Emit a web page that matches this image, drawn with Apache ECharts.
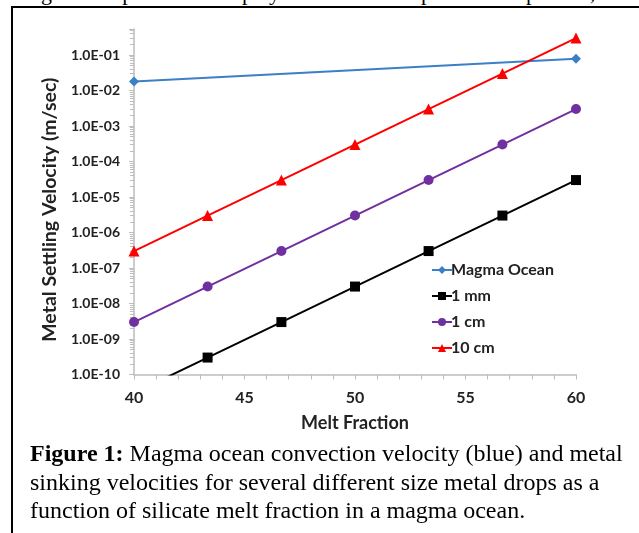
<!DOCTYPE html>
<html>
<head>
<meta charset="utf-8">
<script src="https://cdn.jsdelivr.net/npm/echarts@6/dist/echarts.min.js"></script>
<style>
  html, body { margin: 0; padding: 0; background: #fff; }
  #page { position: relative; width: 639px; height: 533px; overflow: hidden; }
  #frame { position: absolute; left: 11px; top: 6px; width: 700px; height: 600px;
           border-left: 2px solid #000; border-top: 2px solid #000; }
  #chart { position: absolute; left: 0; top: 0; width: 639px; height: 533px; }
  #above { position: absolute; left: 30px; top: -20px; white-space: nowrap;
           font-family: "Liberation Serif", serif; font-size: 22px; color: #000; }
  #caption { position: absolute; left: 30px; top: 439px; width: 605px;
             font-family: "Liberation Serif", serif; font-size: 24px; line-height: 28.5px; color: #000; }
</style>
</head>
<body>
<div id="page">
  <div id="above">ngine comparison of displays the relative importance of plumes,</div>
  <div id="frame"></div>
  <div id="chart"></div>
  <div id="caption"><b>Figure 1:</b> Magma ocean convection velocity (blue) and metal sinking velocities for several different size metal drops as a function of silicate melt fraction in a magma ocean.</div>
</div>
<script>
var meltFraction = [40, 43.33, 46.67, 50, 53.33, 56.67, 60];
var oceanX = [40, 60];
var oceanVel = [0.018, 0.078];
var drop1mm = [3e-11, 3e-10, 3e-9, 3e-8, 3e-7, 3e-6, 3e-5];
var drop1cm = [3e-9, 3e-8, 3e-7, 3e-6, 3e-5, 3e-4, 3e-3];
var drop10cm = [3e-7, 3e-6, 3e-5, 3e-4, 3e-3, 3e-2, 3e-1];
var seriesNames = ["Magma Ocean", "1 mm", "1 cm", "10 cm"];

function pairs(xs, ys) {
    var res = [];
    for (var i = 0; i < xs.length; i++) {
        res.push([xs[i], ys[i]]);
    }
    return res;
}

function sciLabel(v) {
    var lg = Math.log10(v);
    var e = Math.round(lg);
    if (Math.abs(lg - e) > 1e-6) return "";
    return "1.0E" + (e < 0 ? "-" : "+") + String(Math.abs(e)).padStart(2, "0");
}

var chart = echarts.init(document.getElementById("chart"));
var font = "Lato, 'Open Sans', sans-serif";
chart.setOption({
    animation: false,
    grid: { left: 134, right: 63, top: 29, bottom: 158.5 },
    legend: {
        orient: "vertical",
        left: 426,
        top: 257,
        itemGap: 10,
        itemWidth: 20,
        itemHeight: 10,
        textStyle: { fontFamily: font, fontSize: 16, fontWeight: "bold", color: "#222", padding: [0, 0, 0, -6] },
        data: seriesNames
    },
    xAxis: {
        type: "value",
        min: 40,
        max: 60,
        interval: 5,
        name: "Melt Fraction",
        nameLocation: "middle",
        nameGap: 40,
        nameTextStyle: { fontFamily: font, fontSize: 18, fontWeight: "bold", color: "#222" },
        axisLine: { lineStyle: { color: "#bdbdbd", width: 1.5 } },
        axisTick: { length: 5, lineStyle: { color: "#bdbdbd" } },
        minorTick: { show: true, splitNumber: 5, length: 5, lineStyle: { color: "#bdbdbd" } },
        axisLabel: { fontFamily: font, fontSize: 16, fontWeight: "bold", color: "#222", margin: 15 },
        splitLine: { show: false }
    },
    yAxis: {
        type: "log",
        logBase: 10,
        min: 1e-10,
        max: 0.54,
        interval: 1,
        name: "Metal Settling Velocity (m/sec)",
        nameLocation: "middle",
        nameGap: 67,
        nameTextStyle: { fontFamily: font, fontSize: 19.5, fontWeight: "bold", color: "#222", padding: [0, 16, 0, 0] },
        axisLine: { show: true, lineStyle: { color: "#bdbdbd", width: 1.5 } },
        axisTick: { length: 5, lineStyle: { color: "#bdbdbd" } },
        minorTick: { show: true, splitNumber: 9, length: 4, lineStyle: { color: "#bdbdbd" } },
        axisLabel: { fontFamily: font, fontSize: 14, fontWeight: "bold", color: "#222", margin: 14,
                     showMaxLabel: false, formatter: sciLabel },
        splitLine: { show: false }
    },
    series: [
        {
            name: seriesNames[0], type: "line", data: pairs(oceanX, oceanVel),
            symbol: "diamond", symbolSize: 10,
            itemStyle: { color: "#3d7fc6" }, lineStyle: { color: "#3d7fc6", width: 2 }
        },
        {
            name: seriesNames[1], type: "line", data: pairs(meltFraction, drop1mm),
            symbol: "rect", symbolSize: 10,
            itemStyle: { color: "#000" }, lineStyle: { color: "#000", width: 2 }
        },
        {
            name: seriesNames[2], type: "line", data: pairs(meltFraction, drop1cm),
            symbol: "circle", symbolSize: 10,
            itemStyle: { color: "#7030a0" }, lineStyle: { color: "#7030a0", width: 2 }
        },
        {
            name: seriesNames[3], type: "line", data: pairs(meltFraction, drop10cm),
            symbol: "triangle", symbolSize: 11,
            itemStyle: { color: "#ff0000" }, lineStyle: { color: "#ff0000", width: 2 }
        }
    ]
});
</script>
</body>
</html>
